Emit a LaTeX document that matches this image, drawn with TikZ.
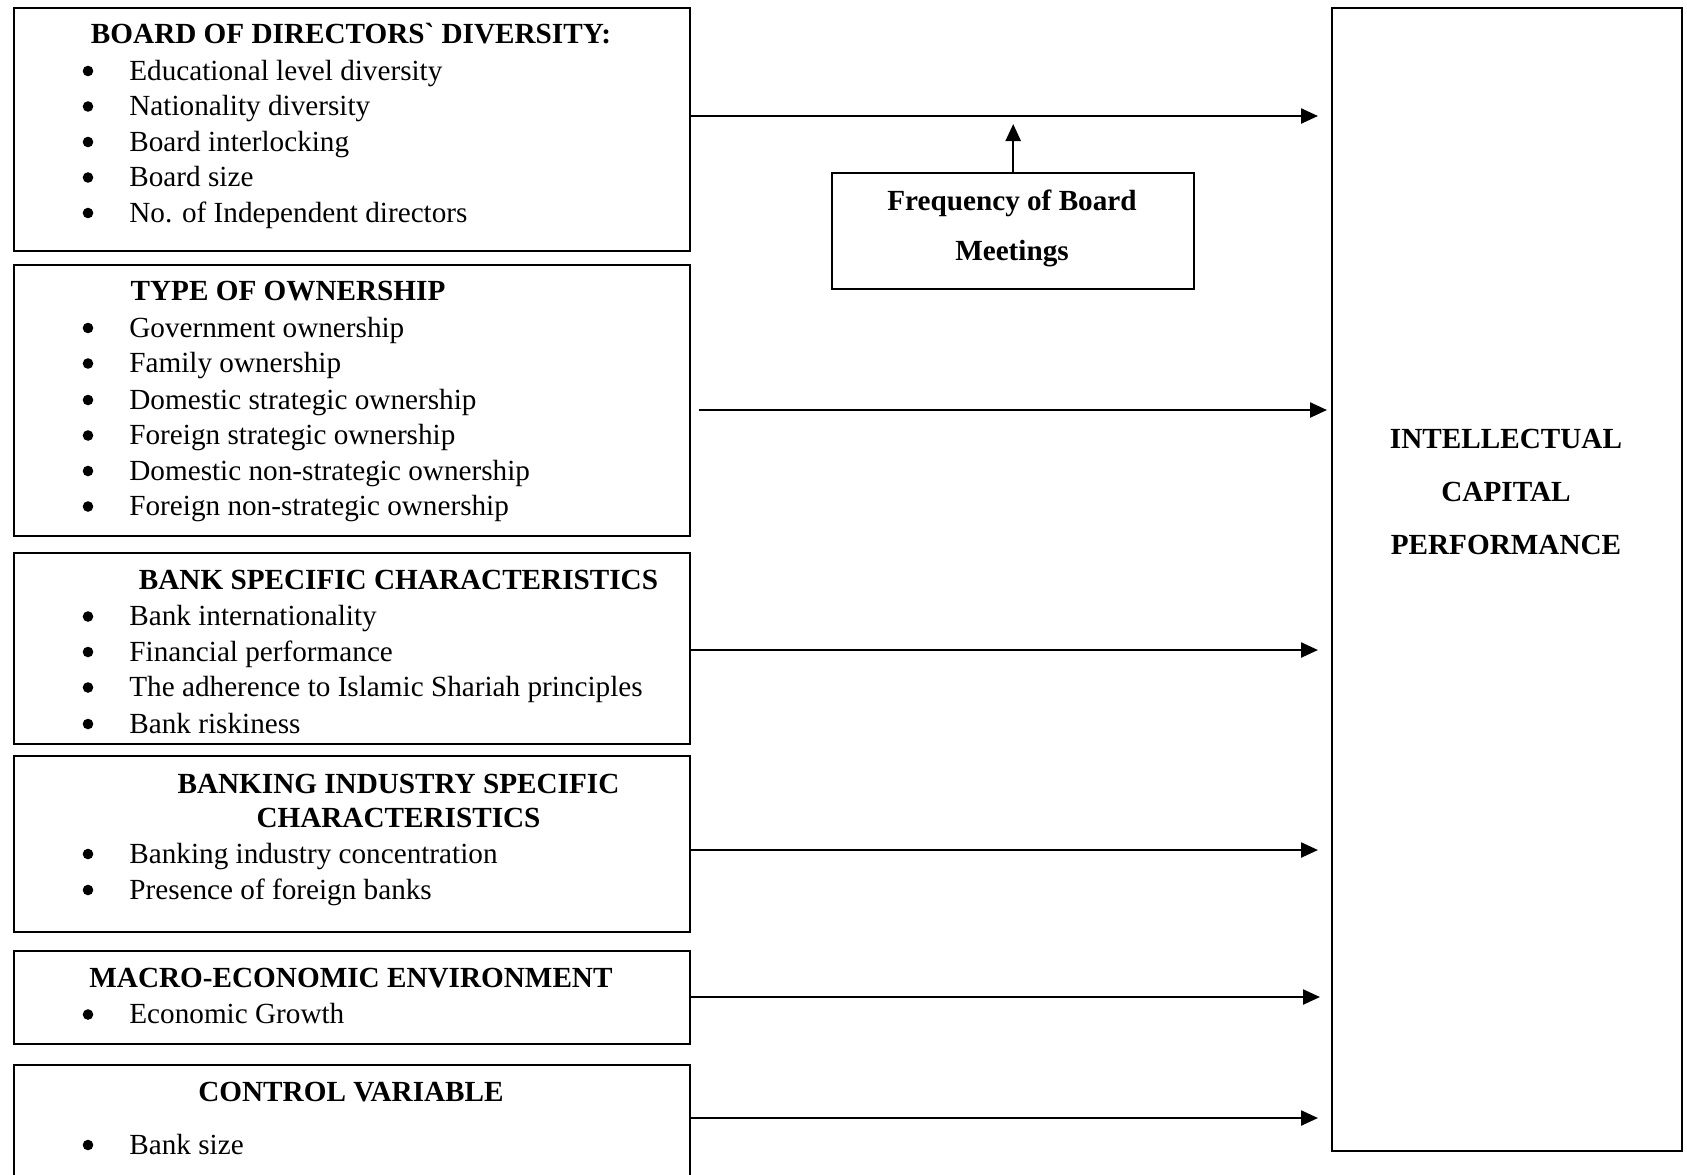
\documentclass[tikz,border=0pt]{standalone}
\usepackage{fontspec}
\setmainfont{Liberation Serif}
\usetikzlibrary{arrows.meta}
\newcommand\bitem[3]{%
  \node[dot] (#1d) at (88,#2) {};
  \node[itm] (#1) at (129,#2+1) {#3};}
\begin{document}
\begin{tikzpicture}[x=0.5pt,y=-0.5pt,
  box/.style={draw, line width=1.2pt, inner sep=0pt, anchor=north west},
  ttl/.style={font=\fontsize{14.6}{17.5}\selectfont\bfseries, inner sep=0pt, text height=11pt, text depth=3pt, anchor=center},
  itm/.style={font=\fontsize{14.6}{17.5}\selectfont, inner sep=0pt, text height=11pt, text depth=3pt, anchor=west},
  dot/.style={circle, fill=black, inner sep=0pt, minimum size=5.3pt},
  arr/.style={line width=1.2pt, -{Triangle[length=8.5pt,width=7.5pt]}}]
\clip (0,0) rectangle (1687,1174);
\fill[white] (0,0) rectangle (1687,1174);

% boxes
\node[box, minimum width=338pt, minimum height=121.75pt] (B1) at (13,6.5) {};
\node[box, minimum width=338pt, minimum height=135.5pt] (B2) at (13,264) {};
\node[box, minimum width=338pt, minimum height=95.5pt] (B3) at (13,552) {};
\node[box, minimum width=338pt, minimum height=88pt] (B4) at (13,755) {};
\node[box, minimum width=338pt, minimum height=46.5pt] (B5) at (13,950) {};
\node[box, minimum width=338pt, minimum height=60.5pt] (B6) at (13,1064) {};
\node[box, minimum width=175pt, minimum height=571.75pt] (R) at (1331,6.5) {};
\node[box, minimum width=181pt, minimum height=58pt] (F) at (831,172) {};

% box 1
\node[ttl] (t1) at (351,35) {BOARD OF DIRECTORS\textasciigrave{} DIVERSITY:};
\bitem{a1}{71}{Educational level diversity}
\bitem{a2}{106.5}{Nationality diversity}
\bitem{a3}{142}{Board interlocking}
\bitem{a4}{177.5}{Board size}
\bitem{a5}{213}{No. of Independent directors}

% box 2
\node[ttl] (t2) at (288,292.5) {TYPE OF OWNERSHIP};
\bitem{b1}{328}{Government ownership}
\bitem{b2}{363.5}{Family ownership}
\bitem{b3}{400}{Domestic strategic ownership}
\bitem{b4}{435.5}{Foreign strategic ownership}
\bitem{b5}{471}{Domestic non-strategic ownership}
\bitem{b6}{506.5}{Foreign non-strategic ownership}

% box 3
\node[ttl] (t3) at (398.5,581) {BANK SPECIFIC CHARACTERISTICS};
\bitem{c1}{616.5}{Bank internationality}
\bitem{c2}{652}{Financial performance}
\bitem{c3}{687.5}{The adherence to Islamic Shariah principles}
\bitem{c4}{724}{Bank riskiness}

% box 4
\node[ttl] (t4) at (398.5,785) {BANKING INDUSTRY SPECIFIC};
\node[ttl] (t4b) at (398.5,819) {CHARACTERISTICS};
\bitem{d1}{854}{Banking industry concentration}
\bitem{d2}{890}{Presence of foreign banks}

% box 5
\node[ttl] (t5) at (351,979) {MACRO-ECONOMIC ENVIRONMENT};
\bitem{e1}{1014.5}{Economic Growth}

% box 6
\node[ttl] (t6) at (351,1093) {CONTROL VARIABLE};
\bitem{f1}{1145}{Bank size}

% right box
\node[ttl] (r1) at (1506,440) {INTELLECTUAL};
\node[ttl] (r2) at (1506,493) {CAPITAL};
\node[ttl] (r3) at (1506,546.5) {PERFORMANCE};

% frequency box
\node[ttl] (f1t) at (1012,202) {Frequency of Board};
\node[ttl] (f2t) at (1012,252) {Meetings};

% arrow levels
\coordinate (y1) at (0,116);
\coordinate (y2) at (0,410);
\coordinate (y3) at (0,650);
\coordinate (y4) at (0,850);
\coordinate (y5) at (0,997);
\coordinate (y6) at (0,1118);

\draw[arr, shorten >=6.5pt] (B1.east |- y1) -- (R.west |- y1);
\draw[arr, shorten <=4pt, shorten >=2pt] (B2.east |- y2) -- (R.west |- y2);
\draw[arr, shorten >=6.5pt] (B3.east |- y3) -- (R.west |- y3);
\draw[arr, shorten >=6.5pt] (B4.east |- y4) -- (R.west |- y4);
\draw[arr, shorten >=5.5pt] (B5.east |- y5) -- (R.west |- y5);
\draw[arr, shorten >=6.5pt] (B6.east |- y6) -- (R.west |- y6);
\draw[arr, shorten >=4pt] (F.north) -- (F.north |- y1);
\end{tikzpicture}
\end{document}
